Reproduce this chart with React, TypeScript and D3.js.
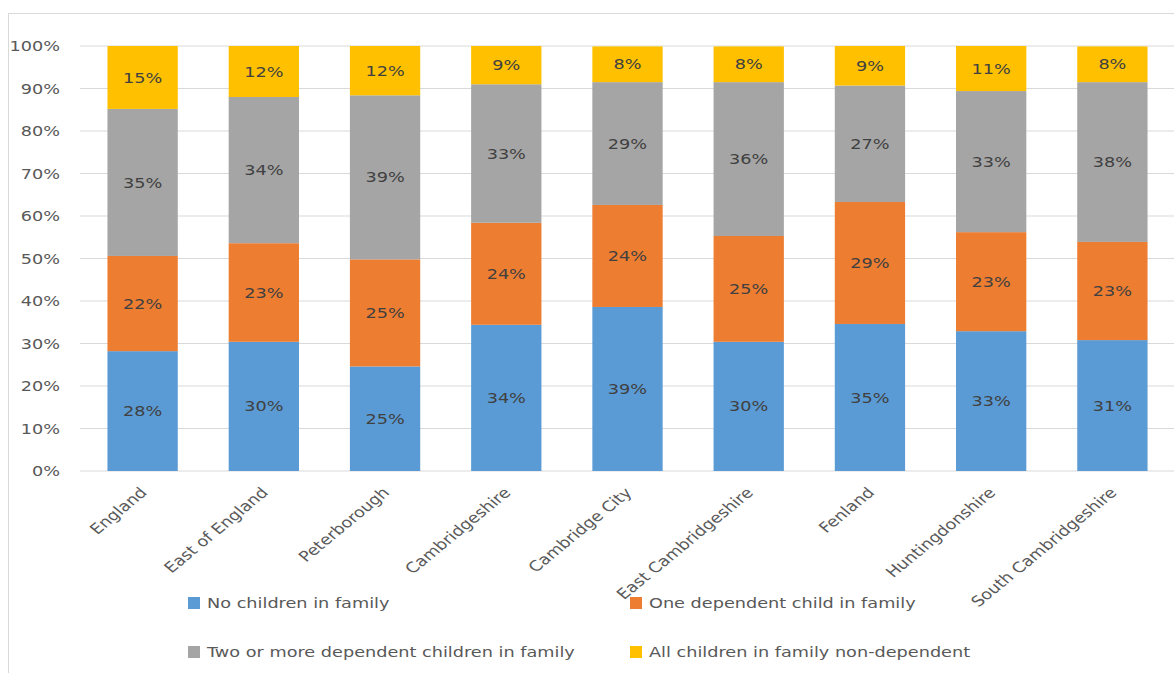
import React from "react";
import * as d3 from "d3";

const categories = [
  "England",
  "East of England",
  "Peterborough",
  "Cambridgeshire",
  "Cambridge City",
  "East Cambridgeshire",
  "Fenland",
  "Huntingdonshire",
  "South Cambridgeshire",
];
const noChildren = [28.2, 30.4, 24.6, 34.4, 38.6, 30.4, 34.6, 32.9, 30.8];
const oneChild = [22.4, 23.2, 25.2, 24.0, 24.0, 24.9, 28.7, 23.3, 23.1];
const twoOrMore = [34.6, 34.4, 38.6, 32.6, 28.9, 36.2, 27.4, 33.2, 37.6];
const nonDependent = [14.8, 12.0, 11.6, 9.0, 8.4, 8.4, 9.3, 10.6, 8.4];
const seriesNames = [
  "No children in family",
  "One dependent child in family",
  "Two or more dependent children in family",
  "All children in family non-dependent",
];
const colors = ["#5B9BD5", "#ED7D31", "#A5A5A5", "#FFC000"];
const yTicks = [0, 10, 20, 30, 40, 50, 60, 70, 80, 90, 100];

const W = 1174;
const H = 673;
const FONT = "'DejaVu Sans', sans-serif";
const SX = 1.22;

export default function App() {
  const x = d3
    .scaleBand<string>()
    .domain(categories)
    .range([82, 1173])
    .paddingInner(0.42)
    .paddingOuter(0.21);
  const y = d3.scaleLinear().domain([0, 100]).range([471, 46]);

  const rows = categories.map((c, i) => ({
    cat: c,
    s0: noChildren[i],
    s1: oneChild[i],
    s2: twoOrMore[i],
    s3: nonDependent[i],
  }));
  const stack = d3.stack<any>().keys(["s0", "s1", "s2", "s3"]);
  const layers = stack(rows);

  const legendItems = [
    { x: 188, y: 603, i: 0 },
    { x: 630, y: 603, i: 1 },
    { x: 188, y: 652, i: 2 },
    { x: 630, y: 652, i: 3 },
  ];

  return (
    <svg
      width={W}
      height={H}
      style={{ position: "absolute", left: 0, top: 0, background: "#fff" }}
      fontFamily={FONT}
    >
      <rect x={8.5} y={13.5} width={1200} height={700} fill="#fff" stroke="#D9D9D9" />
      {yTicks.map((t) => (
        <g key={t}>
          <line x1={80} x2={1174} y1={y(t)} y2={y(t)} stroke="#D9D9D9" strokeWidth={1} />
          <text
            transform={`translate(60,${y(t)}) scale(${SX},1)`}
            dy="0.35em"
            textAnchor="end"
            fontSize={14.5}
            fill="#595959"
          >
            {t}%
          </text>
        </g>
      ))}
      {layers.map((layer, li) => (
        <g key={li}>
          {layer.map((d, i) => {
            const x0 = x(categories[i])!;
            const top = y(d[1]);
            const bot = y(d[0]);
            const v = d[1] - d[0];
            return (
              <g key={i}>
                <rect x={x0} y={top} width={x.bandwidth()} height={bot - top} fill={colors[li]} />
                <text
                  transform={`translate(${x0 + x.bandwidth() / 2},${(top + bot) / 2}) scale(${SX},1)`}
                  dy="0.35em"
                  textAnchor="middle"
                  fontSize={14.5}
                  fill="#404040"
                >
                  {Math.round(v)}%
                </text>
              </g>
            );
          })}
        </g>
      ))}
      {categories.map((c) => {
        const cx = x(c)! + x.bandwidth() / 2 + 1;
        const cy = 490;
        return (
          <text
            key={c}
            transform={`translate(${cx},${cy}) scale(${SX},1) rotate(-45)`}
            textAnchor="end"
            dy="0.35em"
            fontSize={14.5}
            fill="#595959"
          >
            {c}
          </text>
        );
      })}
      {legendItems.map((l) => (
        <g key={l.i}>
          <rect x={l.x} y={l.y - 6} width={12} height={12} fill={colors[l.i]} />
          <text
            transform={`translate(${l.x + 19},${l.y}) scale(${SX},1)`}
            dy="0.35em"
            fontSize={14.5}
            fill="#595959"
          >
            {seriesNames[l.i]}
          </text>
        </g>
      ))}
    </svg>
  );
}
